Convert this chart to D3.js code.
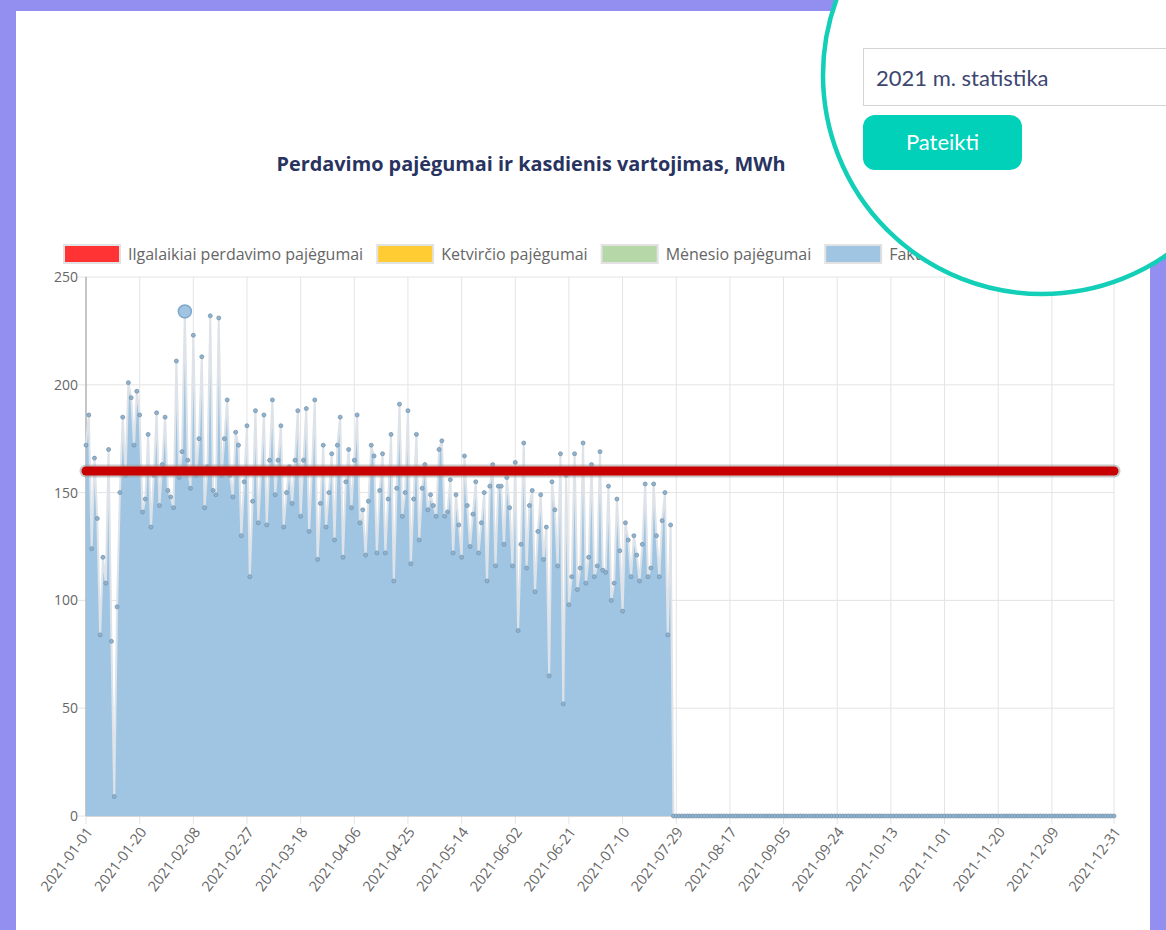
<!DOCTYPE html>
<meta charset="utf-8">
<style>
body {
  margin: 0;
  background: #928ff0;
}
.tick text {
  font-family: "Open Sans", sans-serif;
  fill: #666;
}
</style>
<body>
<!-- load the d3.js library -->
<script src="https://d3js.org/d3.v7.min.js"></script>
<script>

// daily consumption in MWh (2021-01-01 .. 2021-07-27)
var actual = [
  172,186,124,166,138,84,120,108,170,81,
  9,97,150,185,158,201,194,172,197,186,
  141,147,177,134,158,187,144,163,185,151,
  148,143,211,157,169,234,165,152,223,158,
  175,213,143,162,232,151,149,231,158,175,
  193,158,148,178,172,130,155,181,111,146,
  188,136,160,186,135,165,193,149,165,181,
  134,150,162,145,165,188,139,165,189,132,
  160,193,119,145,172,134,150,168,128,172,
  185,120,155,170,143,165,186,136,142,121,
  146,172,167,122,151,168,122,147,177,109,
  152,191,139,150,188,117,147,177,128,152,
  163,142,149,144,139,170,174,139,141,156,
  122,149,135,120,167,144,125,140,155,122,
  136,150,109,153,163,116,153,153,126,157,
  143,116,164,86,126,173,115,144,151,104,
  132,149,119,134,65,155,142,116,168,52,
  158,98,111,168,105,115,173,108,120,163,
  111,116,169,114,113,153,100,108,147,123,
  95,136,128,111,130,121,109,126,154,111,
  115,154,130,111,137,150,84,135
];
// rest of the year is shown as 0
var actualRest = [
  0,0,0,0,0,0,0,0,0,0,0,0,0,0,0,0,0,0,0,0,
  0,0,0,0,0,0,0,0,0,0,0,0,0,0,0,0,0,0,0,0,
  0,0,0,0,0,0,0,0,0,0,0,0,0,0,0,0,0,0,0,0,
  0,0,0,0,0,0,0,0,0,0,0,0,0,0,0,0,0,0,0,0,
  0,0,0,0,0,0,0,0,0,0,0,0,0,0,0,0,0,0,0,0,
  0,0,0,0,0,0,0,0,0,0,0,0,0,0,0,0,0,0,0,0,
  0,0,0,0,0,0,0,0,0,0,0,0,0,0,0,0,0,0,0,0,
  0,0,0,0,0,0,0,0,0,0,0,0,0,0,0,0,0
];
var longTermCapacity = 160;
var highlightDay = 35;

var yTicks = [0, 50, 100, 150, 200, 250];
var tickEvery = 19;

var chartTitle = "Perdavimo pajėgumai ir kasdienis vartojimas, MWh";
var legendLabels = ["Ilgalaikiai perdavimo pajėgumai", "Ketvirčio pajėgumai", "Mėnesio pajėgumai", "Faktinis vartojimas"];
var legendColors = ["#ff3333", "#ffcc33", "#b6d7a8", "#9fc5e3"];

var consumption = actual.concat(actualRest);
var days = d3.timeDay.range(new Date(2021, 0, 1), new Date(2022, 0, 1));

// set the dimensions and margins of the graph
var margin = {top: 277, right: 52, bottom: 114, left: 86},
    width = 1166 - margin.left - margin.right,
    height = 930 - margin.top - margin.bottom;

// set the ranges
var x = d3.scaleTime().domain([days[0], days[days.length - 1]]).range([0, width]);
var y = d3.scaleLinear().domain([0, 250]).range([height, 0]);

var svg = d3.select("body").append("svg")
    .attr("width", 1166)
    .attr("height", 930)
    .style("display", "block");

// white card
svg.append("rect")
    .attr("x", 16).attr("y", 11)
    .attr("width", 1134).attr("height", 940)
    .attr("fill", "#fff");

// title
svg.append("text")
    .attr("x", 531)
    .attr("y", 171)
    .attr("text-anchor", "middle")
    .attr("textLength", 509)
    .attr("lengthAdjust", "spacingAndGlyphs")
    .style("font-family", "'Open Sans', sans-serif")
    .style("font-weight", "700")
    .style("font-size", "19.5px")
    .style("fill", "#29335f")
    .text(chartTitle);

// legend
var lx = 64;
legendLabels.forEach(function(label, i) {
  svg.append("rect")
      .attr("x", lx).attr("y", 245)
      .attr("width", 56).attr("height", 18)
      .attr("fill", legendColors[i])
      .attr("stroke", "#e2e2e2")
      .attr("stroke-width", 2);
  var t = svg.append("text")
      .attr("x", lx + 64)
      .attr("y", 260)
      .style("font-family", "'Open Sans', sans-serif")
      .style("font-size", "16px")
      .style("fill", "#666")
      .text(label);
  lx = lx + 64 + t.node().getComputedTextLength() + 14;
});

var g = svg.append("g")
    .attr("transform", "translate(" + margin.left + "," + margin.top + ")");

// x tick dates: every 19th day plus the last one
var xTicks = days.filter(function(d, i) { return i % tickEvery === 0 && i < days.length - tickEvery; });
xTicks.push(days[days.length - 1]);

// gridlines
g.selectAll(".hgrid").data(yTicks).join("line")
    .attr("class", "hgrid")
    .attr("x1", -8).attr("x2", width)
    .attr("y1", function(d) { return y(d); })
    .attr("y2", function(d) { return y(d); })
    .attr("stroke", "#e4e4e4");
g.selectAll(".vgrid").data(xTicks).join("line")
    .attr("class", "vgrid")
    .attr("x1", function(d) { return x(d); })
    .attr("x2", function(d) { return x(d); })
    .attr("y1", 0).attr("y2", height + 8)
    .attr("stroke", "#e4e4e4");

// axis lines
g.append("line").attr("x1", 0).attr("x2", 0).attr("y1", 0).attr("y2", height).attr("stroke", "#999");
g.append("line").attr("x1", 0).attr("x2", width).attr("y1", height).attr("y2", height).attr("stroke", "#bbb");

// y axis labels
var yAxis = g.append("g")
    .call(d3.axisLeft(y).tickValues(yTicks).tickSize(0).tickPadding(8));
yAxis.select(".domain").remove();
yAxis.selectAll("text").style("font-size", "14px");

// x axis labels
var xAxis = g.append("g")
    .attr("transform", "translate(0," + height + ")")
    .call(d3.axisBottom(x).tickValues(xTicks).tickFormat(d3.timeFormat("%Y-%m-%d")).tickSize(0));
xAxis.select(".domain").remove();
xAxis.selectAll("text")
    .attr("x", 0).attr("y", 0).attr("dy", "0.35em")
    .attr("text-anchor", "end")
    .attr("transform", "translate(3,13) rotate(-53)")
    .style("font-size", "14.5px");

// consumption area
var area = d3.area()
    .x(function(d, i) { return x(days[i]); })
    .y0(height)
    .y1(function(d) { return y(d); });
var valueline = d3.line()
    .x(function(d, i) { return x(days[i]); })
    .y(function(d) { return y(d); });

g.append("path")
    .datum(consumption)
    .attr("d", area)
    .attr("fill", "#9fc5e3");
g.append("path")
    .datum(consumption)
    .attr("d", valueline)
    .attr("fill", "none")
    .attr("stroke", "#dde3e8")
    .attr("stroke-width", 2);
g.selectAll(".pt").data(consumption).join("circle")
    .attr("class", "pt")
    .attr("cx", function(d, i) { return x(days[i]); })
    .attr("cy", function(d) { return y(d); })
    .attr("r", 2)
    .attr("fill", "#8fb2cf")
    .attr("stroke", "#7895ad")
    .attr("stroke-width", 0.8);

// long-term capacity line
var capLine = d3.line()
    .x(function(d) { return x(d); })
    .y(function() { return y(longTermCapacity); });
g.append("path")
    .datum([days[0], days[days.length - 1]])
    .attr("d", capLine)
    .attr("stroke", "#9a9a9a")
    .attr("stroke-opacity", 0.55)
    .attr("stroke-width", 13)
    .attr("stroke-linecap", "round");
g.append("path")
    .datum([days[0], days[days.length - 1]])
    .attr("d", capLine)
    .attr("stroke", "#c80000")
    .attr("stroke-width", 9)
    .attr("stroke-linecap", "round");

// hovered point
g.append("circle")
    .attr("cx", x(days[highlightDay]))
    .attr("cy", y(consumption[highlightDay]))
    .attr("r", 6.5)
    .attr("fill", "#9fc5e3")
    .attr("stroke", "#7ea7c9")
    .attr("stroke-width", 1.5);

// magnifier circle with the year selector
svg.append("circle")
    .attr("cx", 1042).attr("cy", 75).attr("r", 219)
    .attr("fill", "#fff")
    .attr("stroke", "#13cfb8")
    .attr("stroke-width", 4.5);
svg.append("rect")
    .attr("x", 863.5).attr("y", 48.5)
    .attr("width", 330).attr("height", 57)
    .attr("fill", "#fff")
    .attr("stroke", "#d4d4d4");
svg.append("text")
    .attr("x", 876).attr("y", 86)
    .style("font-family", "Lato, sans-serif")
    .style("font-size", "22px")
    .style("fill", "#3c4670")
    .text("2021 m. statistika");
svg.append("rect")
    .attr("x", 863).attr("y", 115)
    .attr("width", 159).attr("height", 55)
    .attr("rx", 12)
    .attr("fill", "#00d1b8");
svg.append("text")
    .attr("x", 942.5).attr("y", 150)
    .attr("text-anchor", "middle")
    .style("font-family", "Lato, sans-serif")
    .style("font-size", "22px")
    .style("fill", "#fff")
    .text("Pateikti");

</script>
